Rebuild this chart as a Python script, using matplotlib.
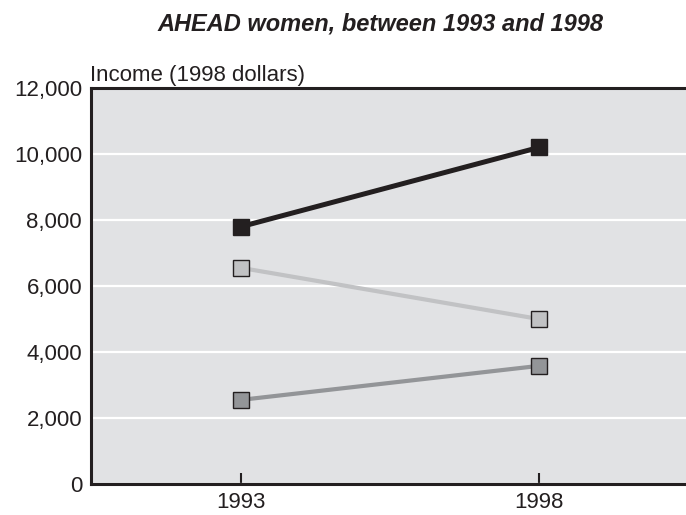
import matplotlib
matplotlib.use("Agg")
import matplotlib.pyplot as plt
from matplotlib.ticker import FuncFormatter

plt.rcParams['font.family'] = ['Liberation Sans', 'DejaVu Sans']

# Data
years = [1993, 1998]
top_series = [7800, 10200]
mid_series = [6550, 5000]
low_series = [2550, 3580]

series_colors = ["#231f20", "#c1c2c4", "#939598"]

fig = plt.figure(figsize=(6.86, 5.15), dpi=100)
ax = fig.add_axes([0.1327, 0.0602, 0.8673, 0.7688])
ax.set_facecolor("#e1e2e4")

for vals, col, lw in zip([top_series, mid_series, low_series], series_colors, [3.6, 3.0, 3.0]):
    ax.plot(years, vals, color=col, linewidth=lw, marker="s", markersize=11.5,
            markerfacecolor=col, markeredgecolor="#231f20", markeredgewidth=1.0, zorder=3)

ax.set_xlim(1990.48, 2000.47)
ax.set_ylim(0, 12000)
ax.set_yticks(range(0, 12001, 2000))
ax.yaxis.set_major_formatter(FuncFormatter(lambda v, p: f"{int(v):,}"))
ax.set_xticks(years)
ax.set_xticklabels([str(y) for y in years])

ax.grid(axis="y", color="white", linewidth=1.6)
ax.set_axisbelow(True)

for side in ["left", "bottom", "top"]:
    ax.spines[side].set_color("#231f20")
    ax.spines[side].set_linewidth(2.2)
ax.spines["right"].set_visible(False)

ax.tick_params(axis="y", length=0, pad=6.5, labelsize=16, colors="#231f20")
ax.tick_params(axis="x", direction="in", length=8, width=1.5, pad=6, labelsize=16,
               colors="#231f20")

fig.text(0.555, 0.953, "AHEAD women, between 1993 and 1998", ha="center", va="center",
         fontsize=17, fontweight="bold", fontstyle="italic", color="#231f20")
fig.text(0.131, 0.853, "Income (1998 dollars)", ha="left", va="center",
         fontsize=16, color="#231f20")

fig.savefig("out.png", dpi=100)
